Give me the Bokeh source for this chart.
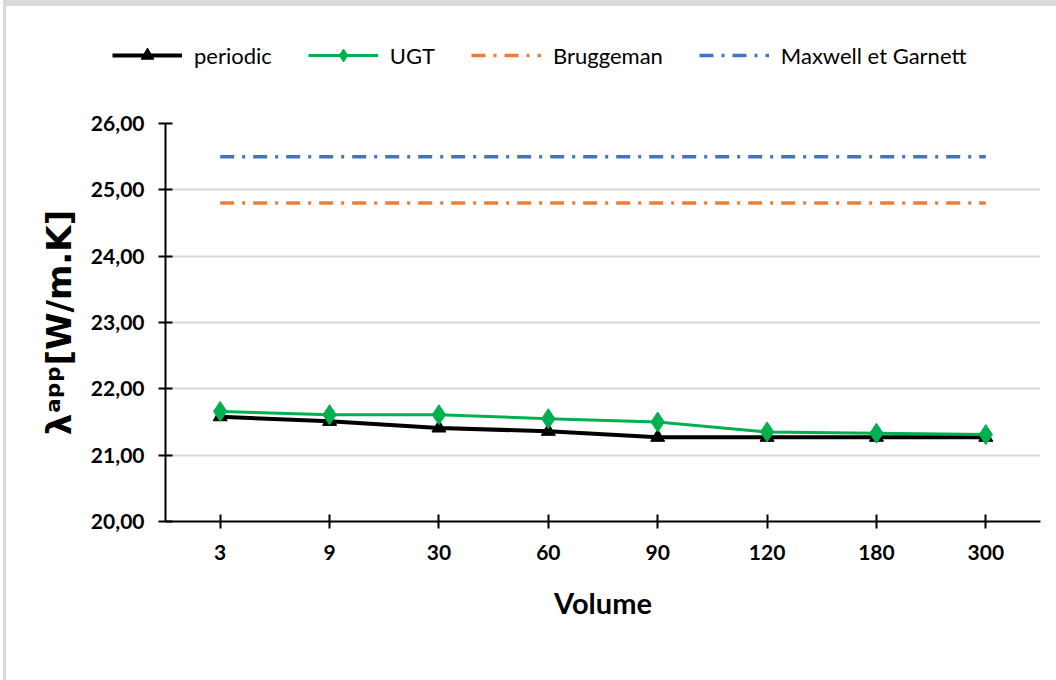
from bokeh.plotting import figure
from bokeh.layouts import column
from bokeh.models import FactorRange, Range1d, Legend, LegendItem, FixedTicker
from bokeh.embed import file_html
from bokeh.resources import INLINE

volumes = ["3", "9", "30", "60", "90", "120", "180", "300"]
periodic = [21.58, 21.51, 21.41, 21.36, 21.27, 21.27, 21.27, 21.27]
ugt = [21.66, 21.61, 21.61, 21.55, 21.50, 21.35, 21.33, 21.31]
bruggeman = [24.80] * 8
maxwell = [25.50] * 8
y_ticks = [20, 21, 22, 23, 24, 25, 26]
y_tick_labels = ["20,00", "21,00", "22,00", "23,00", "24,00", "25,00", "26,00"]
series_names = ["periodic", "UGT", "Bruggeman", "Maxwell et Garnett"]

FONT = "Lato"
C_PER, C_UGT, C_BRU, C_MAX = "black", "#00b050", "#ed7d31", "#4472c4"
DASH = "14 8 3 8"

# ---------------- main chart ----------------
p = figure(width=1056, height=580, output_backend="svg", toolbar_location=None,
           x_range=FactorRange(*volumes, range_padding=0),
           y_range=Range1d(20, 26),
           min_border_left=165, min_border_right=16,
           min_border_top=23, min_border_bottom=159)
p.outline_line_color = None
p.background_fill_color = "white"
p.border_fill_alpha = 0

p.line(volumes, maxwell, line_color=C_MAX, line_width=3.5, line_dash=DASH)
p.line(volumes, bruggeman, line_color=C_BRU, line_width=3.5, line_dash=DASH)
p.line(volumes, periodic, line_color=C_PER, line_width=4)
p.scatter(volumes, periodic, marker="triangle", size=14, color=C_PER)
p.line(volumes, ugt, line_color=C_UGT, line_width=3)
p.scatter(volumes, ugt, marker="diamond", size=20, color=C_UGT)

p.yaxis.ticker = FixedTicker(ticks=y_ticks)
p.yaxis.major_label_overrides = {t: l for t, l in zip(y_ticks, y_tick_labels)}
for ax in (p.xaxis[0], p.yaxis[0]):
    ax.axis_line_color = "black"
    ax.axis_line_width = 2
    ax.major_tick_line_color = "black"
    ax.major_tick_line_width = 2
    ax.major_tick_in = 7
    ax.major_tick_out = 7
    ax.minor_tick_line_color = None
    ax.major_label_text_font = FONT
    ax.major_label_text_font_style = "bold"
    ax.major_label_text_font_size = "21px"
    ax.major_label_text_color = "black"
    ax.axis_label_text_color = "black"
    ax.axis_label_text_font_style = "bold"
p.yaxis.major_label_standoff = 14
p.xaxis.major_label_standoff = 16
p.xaxis.axis_label = "Volume"
p.xaxis.axis_label_text_font = FONT
p.xaxis.axis_label_text_font_size = "29px"
p.xaxis.axis_label_standoff = 22
p.yaxis.axis_label = "λᵃᵖᵖ[W/m.K]"
p.yaxis.axis_label_text_font = "DejaVu Sans"
p.yaxis.axis_label_text_font_size = "34px"
p.yaxis.axis_label_standoff = 9

p.xgrid.grid_line_color = None
p.ygrid.grid_line_color = "#d9d9d9"
p.ygrid.grid_line_width = 2

# ---------------- legend strip ----------------
lg = figure(width=1056, height=100, output_backend="svg", toolbar_location=None,
            x_range=Range1d(0, 1), y_range=Range1d(0, 1),
            x_axis_type=None, y_axis_type=None,
            min_border=0, min_border_left=0, min_border_right=0,
            min_border_top=0, min_border_bottom=0)
lg.outline_line_color = None
lg.background_fill_alpha = 0
lg.border_fill_alpha = 0
lg.xgrid.visible = False
lg.ygrid.visible = False
aligned = True
try:
    lg.frame_align = False
    p.frame_align = False
    aligned = False
except Exception:
    pass

hx, hy = [-5, -4], [-5, -4]   # off-range points: only the legend glyphs show
l_pl = lg.line(hx, hy, line_color=C_PER, line_width=4)
l_pm = lg.scatter(hx, hy, marker="triangle", size=14, color=C_PER)
l_ul = lg.line(hx, hy, line_color=C_UGT, line_width=3)
l_um = lg.scatter(hx, hy, marker="diamond", size=20, color=C_UGT)
l_br = lg.line(hx, hy, line_color=C_BRU, line_width=3.5, line_dash=DASH)
l_mx = lg.line(hx, hy, line_color=C_MAX, line_width=3.5, line_dash=DASH)

legend = Legend(items=[
    LegendItem(label=series_names[0], renderers=[l_pl, l_pm]),
    LegendItem(label=series_names[1], renderers=[l_ul, l_um]),
    LegendItem(label=series_names[2], renderers=[l_br]),
    LegendItem(label=series_names[3], renderers=[l_mx]),
], orientation="horizontal", location=(112 if not aligned else -53, 29),
    glyph_width=70, glyph_height=32, label_standoff=12, spacing=36,
    label_text_font=FONT, label_text_font_size="22px", label_text_color="black",
    border_line_color=None, background_fill_alpha=0, padding=0, margin=0)
lg.add_layout(legend, "center")

layout = column(lg, p, spacing=0,
                styles={"box-shadow": "inset 3px 0 0 0 #ffffff, inset 6px 6px 0 0 #d9d9d9",
                        "background-color": "#ffffff"})
open("out.html", "w").write(file_html(layout, INLINE))
